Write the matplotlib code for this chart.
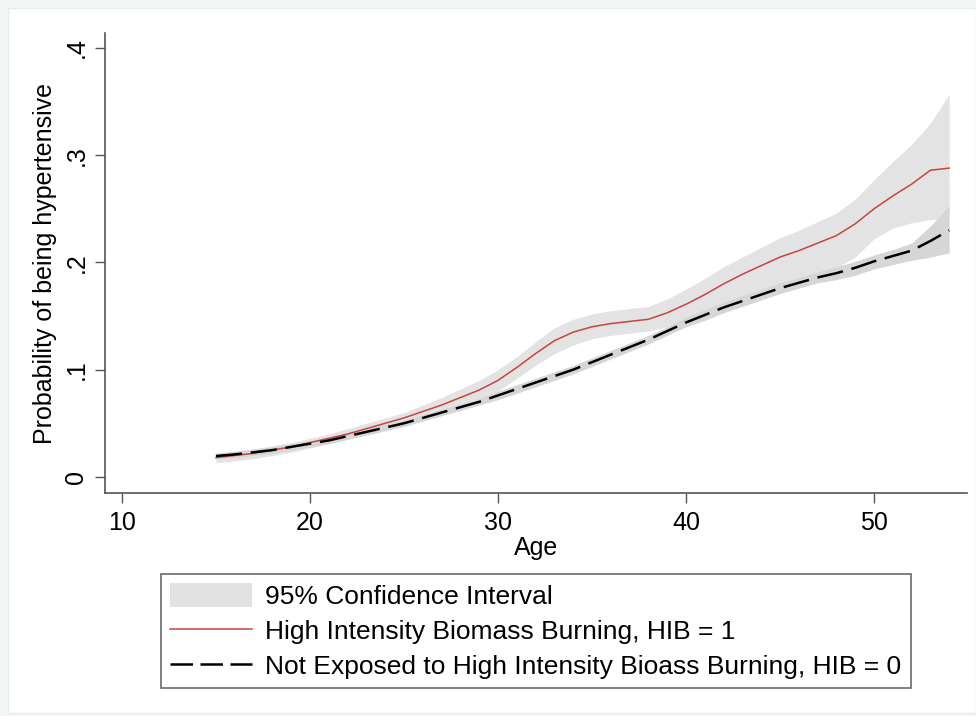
import numpy as np
import matplotlib.pyplot as plt
from matplotlib.patches import Patch, Rectangle
from matplotlib.lines import Line2D

plt.rcParams['font.family'] = ['Liberation Sans', 'DejaVu Sans']

# predicted probability by age
age = np.arange(15, 55)

hib1 = [.018, .020, .022, .025, .028, .032, .036, .040, .045, .050,
        .055, .061, .067, .074, .081, .090, .102, .115, .127, .135,
        .140, .143, .145, .147, .153, .161, .170, .180, .189, .197,
        .205, .211, .218, .225, .236, .250, .262, .273, .286, .288]
hib1_lo = [.013, .015, .017, .020, .023, .027, .031, .035, .040, .045,
           .049, .055, .060, .066, .072, .080, .092, .104, .115, .123,
           .129, .132, .134, .136, .140, .146, .154, .162, .168, .174,
           .180, .185, .190, .195, .205, .222, .232, .237, .240, .241]
hib1_hi = [.022, .024, .026, .029, .032, .036, .040, .045, .050, .055,
           .060, .067, .074, .082, .090, .100, .112, .126, .139, .147,
           .152, .155, .157, .159, .166, .175, .185, .196, .205, .214,
           .223, .230, .238, .246, .259, .277, .294, .310, .330, .357]

hib0 = [.0195, .021, .023, .025, .028, .031, .034, .038, .042, .046,
        .050, .055, .060, .065, .070, .076, .082, .088, .094, .100,
        .107, .114, .121, .128, .136, .144, .151, .158, .164, .170,
        .176, .181, .186, .190, .195, .201, .206, .211, .220, .230]
hib0_lo = [.017, .018, .020, .022, .025, .028, .031, .035, .039, .043,
           .047, .052, .057, .062, .067, .072, .078, .084, .090, .096,
           .103, .110, .117, .124, .132, .140, .146, .153, .159, .165,
           .171, .176, .181, .184, .188, .194, .198, .202, .205, .209]
hib0_hi = [.022, .024, .026, .028, .031, .034, .037, .041, .045, .049,
           .053, .058, .063, .068, .073, .080, .086, .092, .098, .104,
           .111, .118, .125, .132, .140, .149, .156, .163, .169, .175,
           .181, .186, .191, .196, .201, .207, .212, .218, .234, .253]

yticks = [0, .1, .2, .3, .4]
ytick_labels = ['0', '.1', '.2', '.3', '.4']
xticks = [10, 20, 30, 40, 50]

fig = plt.figure(figsize=(9.76, 7.16), dpi=100)
fig.patch.set_facecolor('#f3f6f7')
fig.patches.append(Rectangle((8 / 976, 3 / 716), 968 / 976, 705 / 716,
                             transform=fig.transFigure, facecolor='white',
                             edgecolor='#e8ecec', linewidth=1, zorder=-1))

ax = fig.add_axes([105 / 976, 223 / 716, 862 / 976, 460 / 716])
ax.set_facecolor('none')

ax.fill_between(age, hib1_lo, hib1_hi, color='#e3e3e3', lw=0)
ax.fill_between(age, hib0_lo, hib0_hi, color='#d6d6d6', lw=0)
ax.plot(age, hib1, color='#c8443f', lw=1.1)
ax.plot(age, hib0, color='black', lw=1.8, dashes=(10.5, 3.5))

ax.set_xlim(9.1, 54.95)
ax.set_ylim(-0.015, 0.414)
ax.set_xticks(xticks)
ax.set_yticks(yticks)
ax.set_yticklabels(ytick_labels, rotation=90, va='center')
ax.tick_params(labelsize=18, length=7, width=1, color='#555555')
ax.tick_params(axis='x', pad=6)
ax.tick_params(axis='y', pad=5)
for s in ['top', 'right']:
    ax.spines[s].set_visible(False)
for s in ['left', 'bottom']:
    ax.spines[s].set_color('#555555')
    ax.spines[s].set_linewidth(1.2)

ax.set_xlabel('Age', fontsize=18, labelpad=1)
ax.set_ylabel('Probability of being hypertensive', fontsize=18, labelpad=5)

handles = [Patch(facecolor='#e2e2e2', edgecolor='none'),
           Line2D([], [], color='#c8443f', lw=1.1),
           Line2D([], [], color='black', lw=1.8, dashes=(9, 3))]
labels = ['95% Confidence Interval',
          'High Intensity Biomass Burning, HIB = 1',
          'Not Exposed to High Intensity Bioass Burning, HIB = 0']
leg = ax.legend(handles, labels, loc='upper center', bbox_to_anchor=(0.5, -0.176),
                fontsize=19, frameon=True, fancybox=False, handlelength=3.1,
                handleheight=1.0, handletextpad=0.5, labelspacing=0.35,
                borderpad=0.35, borderaxespad=0)
leg.get_frame().set_edgecolor('#444444')
leg.get_frame().set_linewidth(1.2)

plt.savefig('out.png', dpi=100, facecolor=fig.get_facecolor())
